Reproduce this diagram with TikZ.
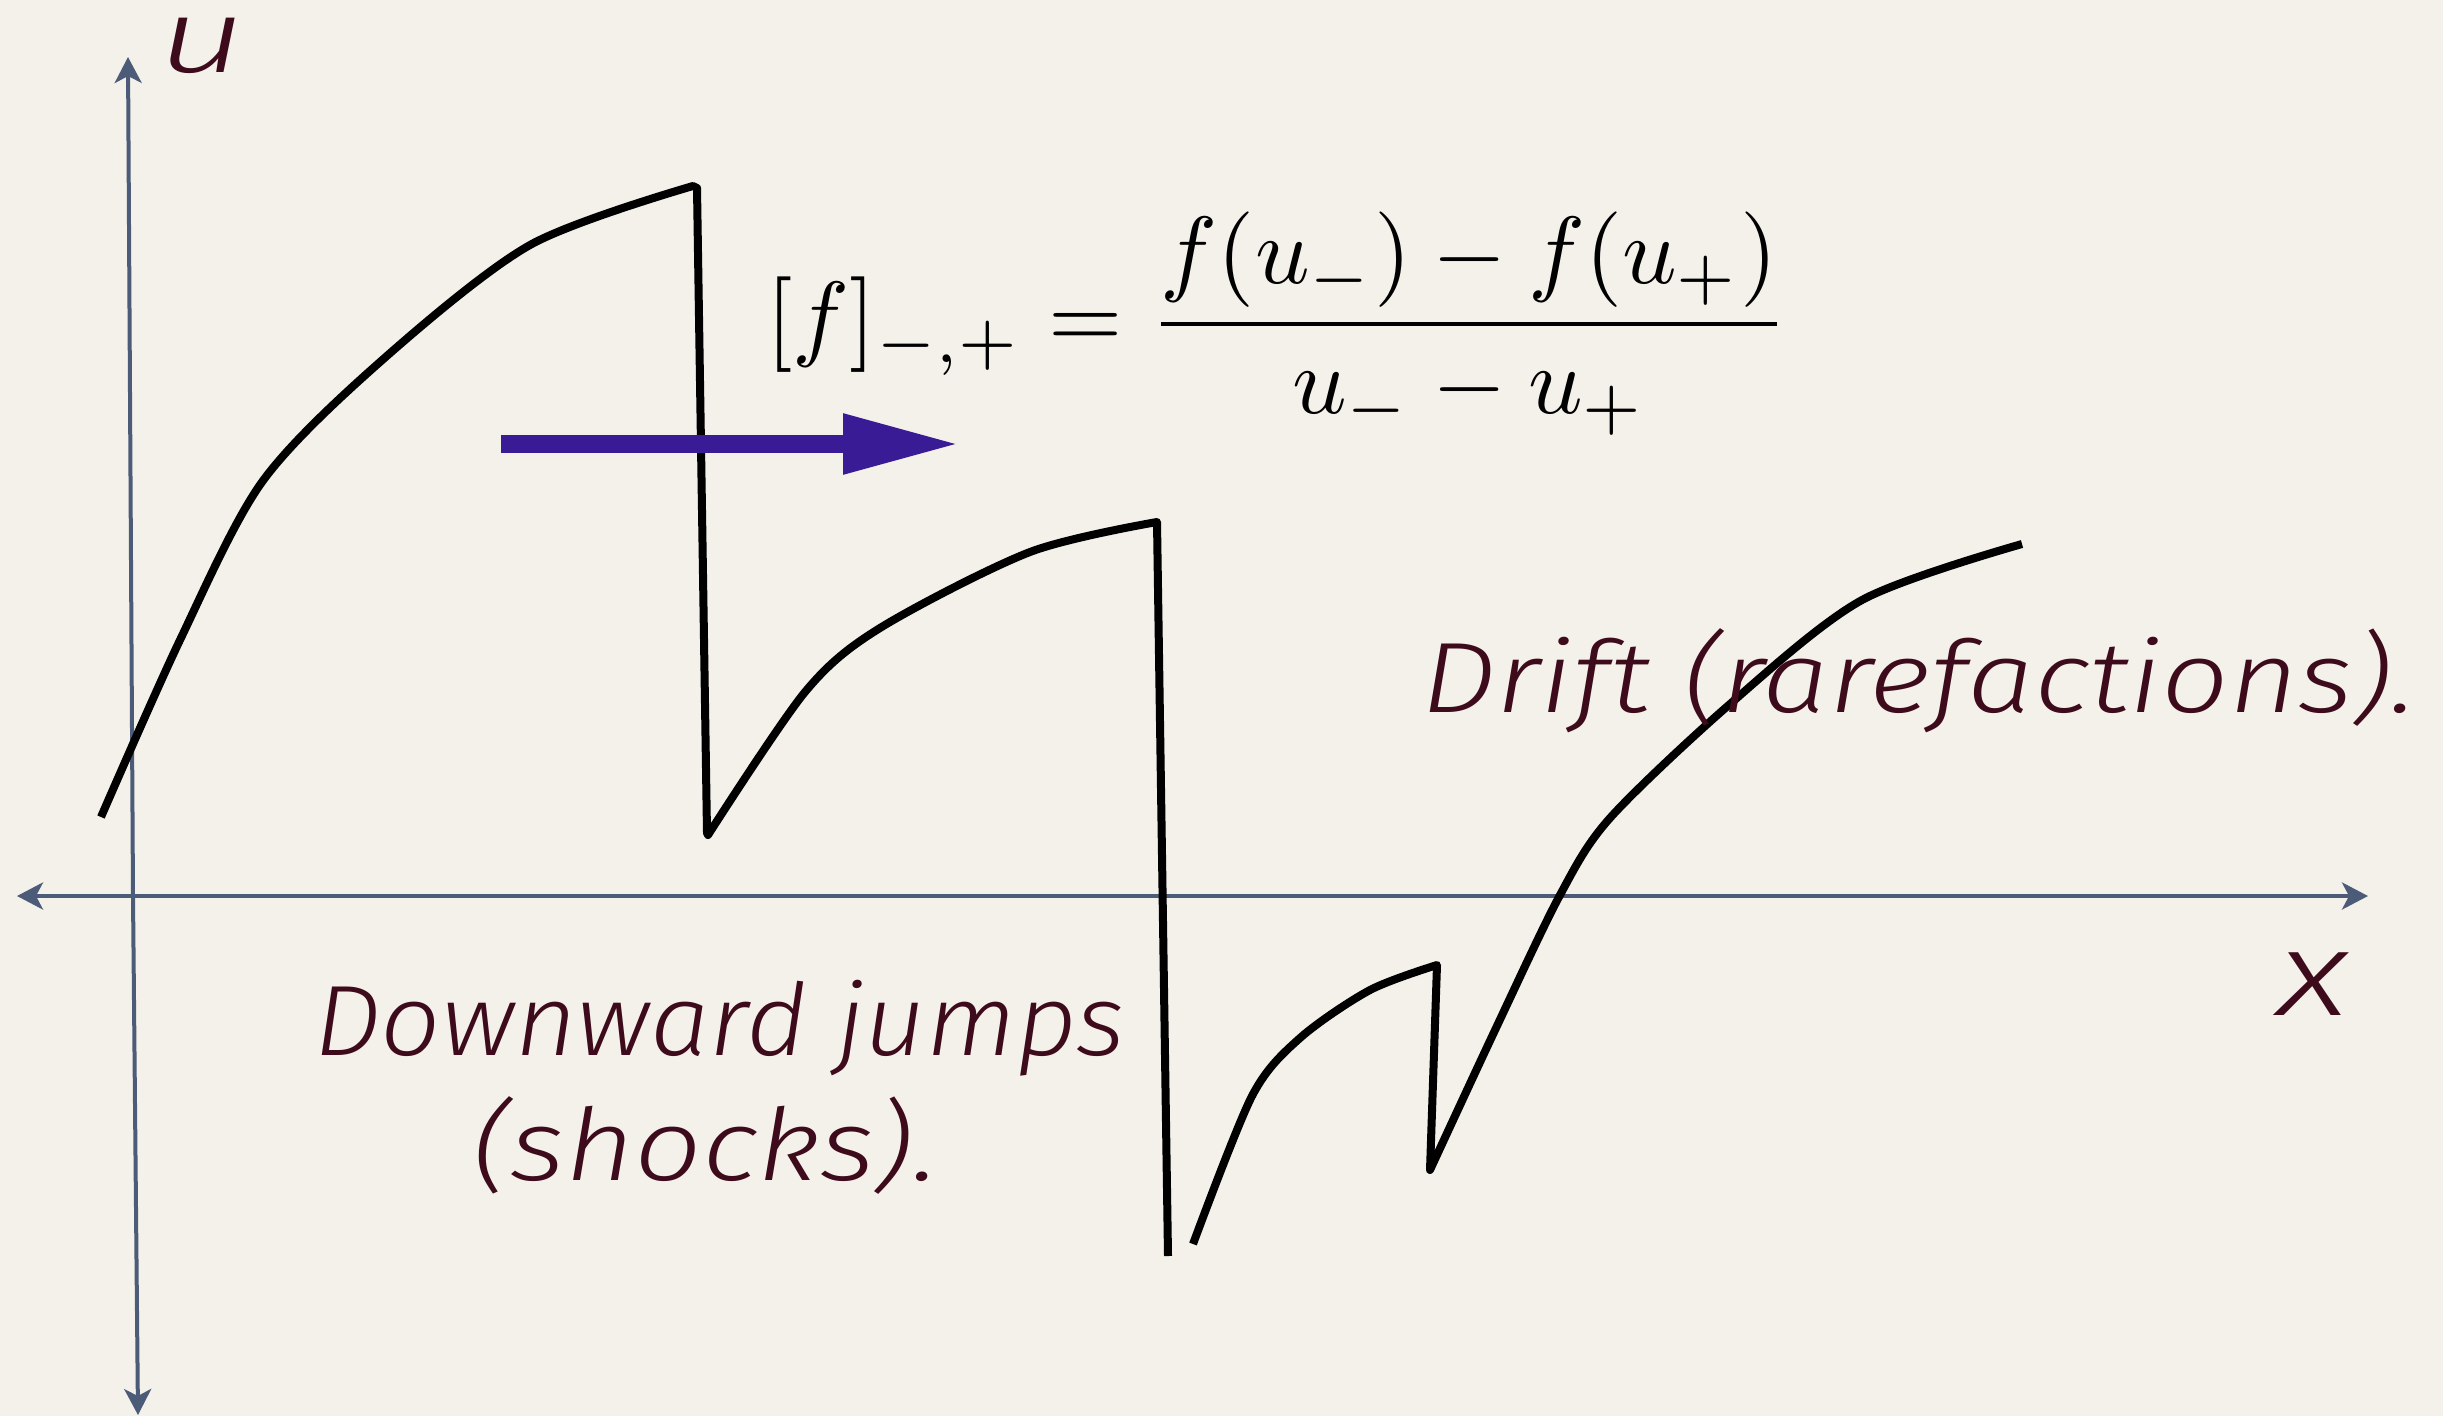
\documentclass[tikz,border=0pt]{standalone}
\usepackage{fontspec}
\usepackage{graphicx}
\usetikzlibrary{arrows.meta}
\IfFontExistsTF{Fira Sans Light Italic}{\newfontfamily\hand{Fira Sans Light Italic}}{\newfontfamily\hand{Fira Sans Italic}}
\definecolor{paper}{RGB}{244,241,234}
\definecolor{axiscol}{RGB}{75,91,120}
\definecolor{ink}{RGB}{61,11,28}
\definecolor{bluearrow}{RGB}{57,27,150}
\tikzset{
  axisline/.style={draw=axiscol, line width=4pt, -{Stealth[length=26pt,width=27pt,inset=7pt]}},
  curveline/.style={draw=black, line width=8pt, line join=round, line cap=butt},
  handtext/.style={text=ink, inner sep=0pt, anchor=base west, font=\hand},
}
\begin{document}
\begin{tikzpicture}[x=1pt,y=-1pt]
\fill[paper] (0,0) rectangle (2443,1416);
\useasboundingbox (0,0) rectangle (2443,1416);
% axes
\coordinate (o) at (133,896);
\coordinate (ytop) at (128,57);
\coordinate (ybot) at (138,1415);
\coordinate (xleft) at (17,896);
\coordinate (xright) at (2368,896);
\draw[axisline] (o) -- (ytop);
\draw[axisline] (o) -- (ybot);
\draw[axisline] (o) -- (xleft);
\draw[axisline] (o) -- (xright);
% curve
\draw[curveline] plot[smooth,tension=0.5] coordinates {(101,817) (180,640) (262,482) (380,362) (530,245) (693,186)}
  -- (697,188) -- (707,833)
  -- plot[smooth,tension=0.5] coordinates {(708,835) (805,692) (880,628) (1030,552) (1157,522)}
  -- (1168,1256);
\draw[curveline] plot[smooth,tension=0.5] coordinates {(1193,1244) (1252,1096) (1300,1038) (1370,990) (1437,965)}
  -- (1430,1170)
  -- plot[smooth,tension=0.5] coordinates {(1430,1170) (1496,1028) (1560,895) (1610,818) (1730,704) (1862,600) (2022,544)};
% blue arrow
\coordinate (ba) at (501,444);
\coordinate (bb) at (960,444);
\draw[draw=bluearrow, line width=18pt, -{Triangle[length=117pt,width=56pt]}] (ba) -- (bb);
% formula
\node[inner sep=0pt, anchor=base west] (formula) at (766,348)
  {\scalebox{9.55}{$\displaystyle [f]_{-,+} = \frac{f(u_-) - f(u_+)}{u_- - u_+}$}};
% labels
\node[handtext, font=\hand\fontsize{104}{110}\selectfont] (ulabel) at (158,72) {\scalebox{1.45}[1]{u}};
\node[handtext, font=\hand\fontsize{120}{130}\selectfont] (xlabel) at (2277,1015) {\scalebox{1.3}[1]{x}};
\node[handtext, font=\hand\fontsize{100}{110}\selectfont] (drift) at (1421,712) {\scalebox{1.19}[1]{Drift (rarefactions).}};
\node[handtext, font=\hand\fontsize{100}{110}\selectfont] (down) at (314,1055) {\scalebox{1.06}[1]{Downward jumps}};
\node[handtext, font=\hand\fontsize{100}{110}\selectfont] (shocks) at (472,1180) {\scalebox{1.19}[1]{(shocks).}};
\end{tikzpicture}
\end{document}
